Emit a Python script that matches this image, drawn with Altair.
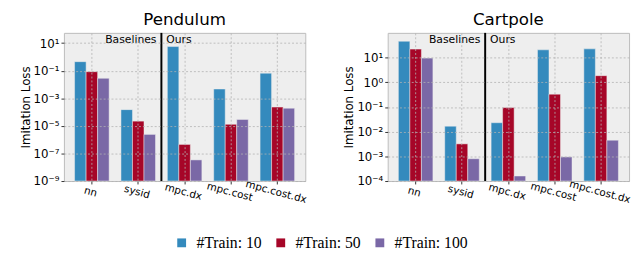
import altair as alt
import pandas as pd
import math

methods = ["nn", "sysid", "mpc.dx", "mpc.cost", "mpc.cost.dx"]
train_sizes = ["#Train: 10", "#Train: 50", "#Train: 100"]
colors = ["#348ABD", "#A60628", "#7A68A6"]

pendulum_10 = [0.45, 1.5e-4, 5.6, 4.7e-3, 0.066]
pendulum_50 = [0.085, 2.2e-5, 4.5e-7, 1.3e-5, 2.3e-4]
pendulum_100 = [0.028, 2.4e-6, 3.4e-8, 2.9e-5, 1.9e-4]

cartpole_10 = [46, 0.0166, 0.023, 20.6, 22.5]
cartpole_50 = [22, 3.2e-3, 0.095, 0.33, 1.85]
cartpole_100 = [9.5, 8e-4, 1.6e-4, 9.5e-4, 4.5e-3]

pendulum_ticks = [1e-9, 1e-7, 1e-5, 1e-3, 1e-1, 1e1]
cartpole_ticks = [1e-4, 1e-3, 1e-2, 1e-1, 1e0, 1e1]
pendulum_domain = [1e-9, 55]
cartpole_domain = [1e-4, 100]

SUP = {"-": "\u207b", "0": "\u2070", "1": "\u00b9", "2": "\u00b2", "3": "\u00b3",
       "4": "\u2074", "5": "\u2075", "6": "\u2076", "7": "\u2077", "8": "\u2078", "9": "\u2079"}


def label_expr(ticks):
    parts = []
    for t in ticks:
        e = int(round(math.log10(t)))
        s = "10" + "".join(SUP[c] for c in str(e))
        parts.append(f"round(log(datum.value)/LN10) == {e} ? '{s}' : ")
    return "".join(parts) + "''"


FONT = "DejaVu Sans"
SEP_SHIFT = 6  # half of the inner padding between bands

legend = alt.Legend(title=None, orient="none", direction="horizontal",
                    legendX=112, legendY=206, symbolType="square", symbolSize=81,
                    symbolStrokeWidth=0, labelFont="Liberation Serif",
                    labelFontSize=16, labelColor="black", labelOffset=7,
                    columnPadding=11)


def panel(title, v10, v50, v100, domain, ticks, title_pad):
    rows = []
    for series, vals in zip(train_sizes, [v10, v50, v100]):
        for m, v in zip(methods, vals):
            rows.append({"method": m, "train": series, "loss": v})
    df = pd.DataFrame(rows)

    x = alt.X("method:N", sort=methods,
              scale=alt.Scale(paddingInner=0.255, paddingOuter=0.23),
              axis=alt.Axis(title=None, labelAngle=15, labelAlign="center",
                            labelBaseline="top", labelFontSize=10.5, labelFont=FONT,
                            labelColor="black", labelPadding=3,
                            grid=True, gridColor="#b2b2b2", gridDash=[2, 2], gridWidth=0.8,
                            domain=False, tickSize=3, tickColor="#333333", zindex=1))
    bars = alt.Chart(df).mark_bar(stroke="#eeeeee", strokeWidth=0.5).encode(
        x=x,
        xOffset=alt.XOffset("train:N", sort=train_sizes),
        y=alt.Y("loss:Q",
                scale=alt.Scale(type="log", domain=domain),
                axis=alt.Axis(title="Imitation Loss", titleFont=FONT, titleFontSize=12,
                              titleFontWeight="normal", titleColor="black",
                              titlePadding=title_pad,
                              values=ticks, labelExpr=label_expr(ticks),
                              labelFont=FONT, labelFontSize=12, labelColor="black",
                              labelPadding=2,
                              grid=True, gridColor="#b2b2b2", gridDash=[2, 2], gridWidth=0.8,
                              domain=False, tickSize=3, tickColor="#333333", zindex=1)),
        y2=alt.datum(domain[0]),
        color=alt.Color("train:N", sort=train_sizes,
                        scale=alt.Scale(domain=train_sizes, range=colors), legend=legend),
    )
    one = pd.DataFrame({"a": [0]})
    rule = alt.Chart(one).mark_rule(color="black", strokeWidth=2, xOffset=SEP_SHIFT).encode(
        x=alt.XDatum("sysid", bandPosition=1)
    )
    t1 = alt.Chart(one).mark_text(
        text="Baselines", align="right", dx=-5, xOffset=SEP_SHIFT, baseline="middle",
        font=FONT, fontSize=11, color="black").encode(
        x=alt.XDatum("sysid", bandPosition=1), y=alt.value(7))
    t2 = alt.Chart(one).mark_text(
        text="Ours", align="left", dx=5, xOffset=SEP_SHIFT, baseline="middle",
        font=FONT, fontSize=11, color="black").encode(
        x=alt.XDatum("sysid", bandPosition=1), y=alt.value(7))
    return alt.layer(bars, rule, t1, t2).properties(
        width=246, height=151,
        title=alt.TitleParams(title, font=FONT, fontSize=17, fontWeight="normal",
                              color="black", offset=3))


p1 = panel("Pendulum", pendulum_10, pendulum_50, pendulum_100,
           pendulum_domain, pendulum_ticks, 1)
p2 = panel("Cartpole", cartpole_10, cartpole_50, cartpole_100,
           cartpole_domain, cartpole_ticks, 1)

chart = alt.hconcat(p1, p2, spacing=35).properties(
    padding={"left": 11, "top": 0, "right": 0, "bottom": 0}
).configure_view(fill="#eeeeee", stroke="#bcbcbc", strokeWidth=1)

chart.save("out.html", embed_options={"renderer": "svg", "actions": False})
